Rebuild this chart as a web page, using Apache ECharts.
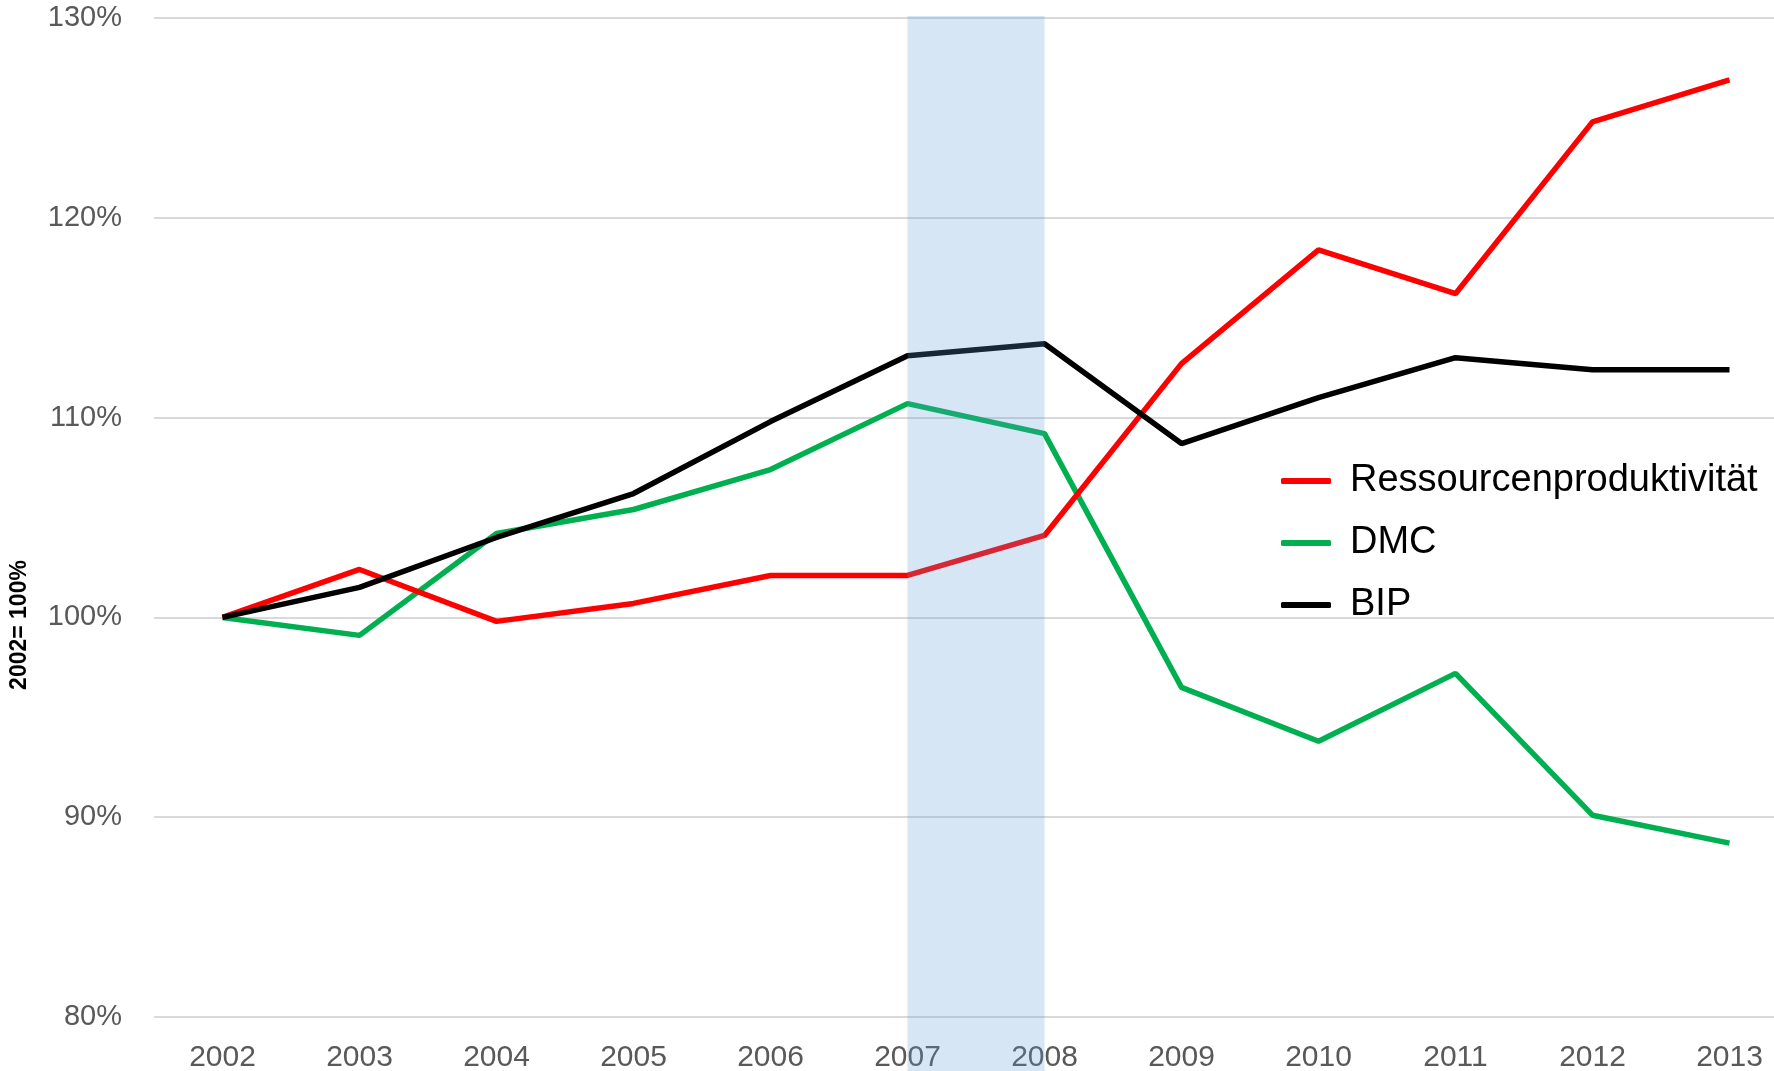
<!DOCTYPE html>
<html>
<head>
<meta charset="utf-8">
<script src="https://cdn.jsdelivr.net/npm/echarts@6/dist/echarts.min.js"></script>
<style>
html, body { margin: 0; padding: 0; background: #fff; }
#chart { width: 1774px; height: 1071px; }
</style>
</head>
<body>
<div id="chart"></div>
<script>
// Jahre (x-Achse)
var years = ['2002', '2003', '2004', '2005', '2006', '2007', '2008', '2009', '2010', '2011', '2012', '2013'];
// Index 2002 = 100%
var ressourcenData = [100, 102.4, 99.8, 100.7, 102.1, 102.1, 104.1, 112.7, 118.4, 116.2, 124.8, 126.9];
var dmcData = [100, 99.1, 104.2, 105.4, 107.4, 110.7, 109.2, 96.5, 93.8, 97.2, 90.1, 88.7];
var bipData = [100, 101.5, 104.0, 106.2, 109.8, 113.1, 113.7, 108.7, 111.0, 113.0, 112.4, 112.4];
var seriesNames = ['Ressourcenproduktivität', 'DMC', 'BIP'];
var krise = ['2007', '2008']; // hervorgehobener Zeitraum
var yTicks = { min: 80, max: 130, step: 10 };

var chart = echarts.init(document.getElementById('chart'));
var font = '"Liberation Sans", Arial, sans-serif';

chart.setOption({
    animation: false,
    backgroundColor: '#fff',
    grid: {
        left: 154,
        top: 18,
        width: 1644,
        height: 999,
        outerBoundsMode: 'none',
        containLabel: false
    },
    legend: {
        orient: 'vertical',
        left: 1276,
        top: 457,
        itemWidth: 50,
        itemHeight: 6,
        itemGap: 24,
        icon: 'roundRect',
        data: seriesNames,
        textStyle: {
            fontFamily: font,
            fontSize: 38,
            color: '#000',
            padding: [0, 0, 0, 14]
        }
    },
    xAxis: {
        type: 'category',
        boundaryGap: true,
        data: years,
        axisLine: { show: false },
        axisTick: { show: false },
        axisLabel: {
            fontFamily: font,
            fontSize: 30,
            color: '#595959',
            margin: 26
        }
    },
    yAxis: {
        type: 'value',
        min: yTicks.min,
        max: yTicks.max,
        interval: yTicks.step,
        axisLine: { show: false },
        axisTick: { show: false },
        axisLabel: {
            fontFamily: font,
            fontSize: 29,
            color: '#595959',
            margin: 32,
            formatter: '{value}%'
        },
        splitLine: { lineStyle: { color: '#d9d9d9', width: 2 } }
    },
    graphic: [{
        type: 'text',
        x: 20,
        y: 625,
        rotation: Math.PI / 2,
        style: {
            text: '2002= 100%',
            fontFamily: font,
            fontSize: 23,
            fontWeight: 'bold',
            fill: '#000',
            align: 'center',
            verticalAlign: 'middle'
        }
    }],
    series: [{
        name: seriesNames[0],
        type: 'line',
        data: ressourcenData,
        symbol: 'none',
        lineStyle: { color: '#ff0000', width: 5.5 },
        itemStyle: { color: '#ff0000' },
        z: 3
    }, {
        name: seriesNames[1],
        type: 'line',
        data: dmcData,
        symbol: 'none',
        lineStyle: { color: '#00b050', width: 5.5 },
        itemStyle: { color: '#00b050' },
        z: 2
    }, {
        name: seriesNames[2],
        type: 'line',
        data: bipData,
        symbol: 'none',
        lineStyle: { color: '#000000', width: 5.5 },
        itemStyle: { color: '#000000' },
        z: 4,
        markArea: {
            silent: true,
            z: 10,
            itemStyle: { color: 'rgba(91,155,213,0.25)' },
            data: [[{ xAxis: krise[0], y: 16 }, { xAxis: krise[1], y: '100%' }]]
        }
    }]
});
</script>
</body>
</html>
